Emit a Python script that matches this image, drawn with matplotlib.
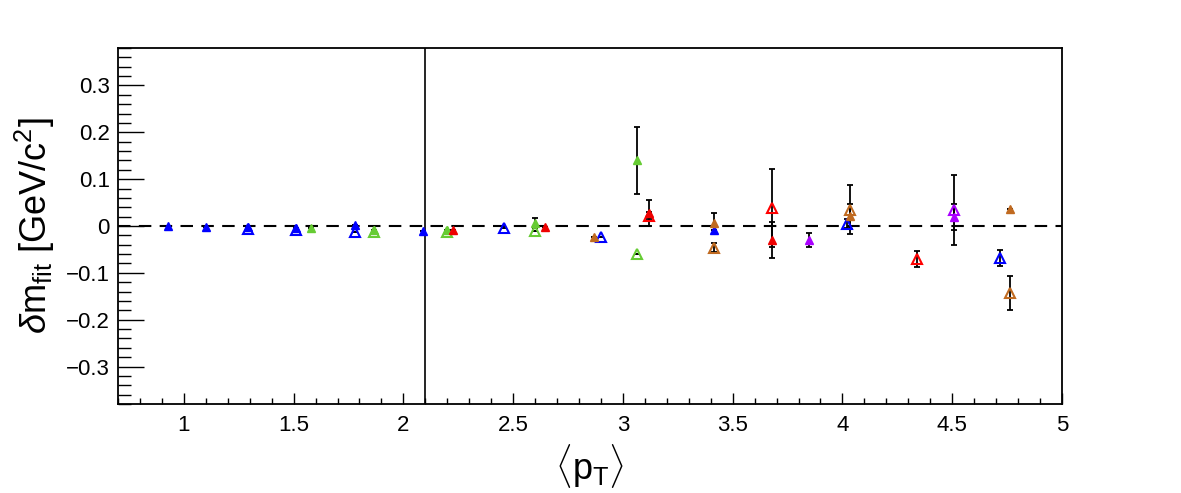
import matplotlib
matplotlib.use("Agg")
import matplotlib.pyplot as plt
from matplotlib.ticker import MultipleLocator, FuncFormatter

plt.rcParams['font.family'] = ['Liberation Sans', 'DejaVu Sans']
plt.rcParams['mathtext.fontset'] = 'custom'
plt.rcParams['mathtext.rm'] = 'Liberation Sans'
plt.rcParams['mathtext.it'] = 'Liberation Sans:italic'
plt.rcParams['mathtext.bf'] = 'Liberation Sans:bold'

# series: (x, y, yerr) per colour, filled / open triangles
blue_f_x = [0.93, 1.10, 1.29, 1.51, 1.78, 2.09, 3.415]
blue_f_y = [-0.001, -0.002, -0.003, -0.004, 0.002, -0.011, -0.008]
blue_f_e = [0, 0, 0, 0, 0, 0, 0]
blue_o_x = [1.29, 1.51, 1.78, 2.46, 2.90, 4.02, 4.72]
blue_o_y = [-0.007, -0.008, -0.012, -0.005, -0.024, 0.005, -0.068]
blue_o_e = [0, 0, 0, 0, 0, 0.010, 0.017]

green_f_x = [1.58, 1.865, 2.20, 2.60, 3.065]
green_f_y = [-0.005, -0.008, -0.008, 0.007, 0.140]
green_f_e = [0, 0, 0, 0.011, 0.071]
green_o_x = [1.865, 2.20, 2.60, 3.065]
green_o_y = [-0.012, -0.012, -0.010, -0.060]
green_o_e = [0, 0, 0, 0]

red_f_x = [2.225, 2.645, 3.12, 3.68]
red_f_y = [-0.009, -0.003, 0.028, -0.030]
red_f_e = [0, 0, 0.027, 0.038]
red_o_x = [3.12, 3.68, 4.34]
red_o_y = [0.022, 0.038, -0.070]
red_o_e = [0.008, 0.083, 0.017]

brown_f_x = [2.87, 3.415, 4.035, 4.765]
brown_f_y = [-0.024, 0.007, 0.021, 0.036]
brown_f_e = [0, 0.021, 0.027, 0]
brown_o_x = [3.415, 4.035, 4.765]
brown_o_y = [-0.046, 0.035, -0.143]
brown_o_e = [0.010, 0.053, 0.036]

purple_f_x = [3.85, 4.51]
purple_f_y = [-0.030, 0.020]
purple_f_e = [0.015, 0.028]
purple_o_x = [4.51]
purple_o_y = [0.034]
purple_o_e = [0.075]

series = [
    (blue_o_x, blue_o_y, blue_o_e, '#0000ff', False),
    (blue_f_x, blue_f_y, blue_f_e, '#0000ff', True),
    (green_o_x, green_o_y, green_o_e, '#66cc33', False),
    (green_f_x, green_f_y, green_f_e, '#66cc33', True),
    (red_o_x, red_o_y, red_o_e, '#ff0000', False),
    (red_f_x, red_f_y, red_f_e, '#ee0000', True),
    (brown_o_x, brown_o_y, brown_o_e, '#c06a20', False),
    (brown_f_x, brown_f_y, brown_f_e, '#c06a20', True),
    (purple_o_x, purple_o_y, purple_o_e, '#aa00ff', False),
    (purple_f_x, purple_f_y, purple_f_e, '#aa00ff', True),
]

fig = plt.figure(figsize=(11.81, 4.93), dpi=100)
ax = fig.add_axes([0.0999, 0.1805, 0.7993, 0.7221])

ax.axhline(0, color='k', ls=(0, (6, 4)), lw=1.5, zorder=1)
ax.axvline(2.1, color='k', lw=1.2, zorder=1)

for x, y, e, c, filled in series:
    ax.errorbar(x, y, yerr=e, fmt='none', ecolor='k', elinewidth=1.3,
                capsize=2, capthick=1.3, zorder=2)
    if filled:
        ax.plot(x, y, ls='none', marker='^', ms=6, color=c, mec=c, zorder=4)
    else:
        ax.plot(x, y, ls='none', marker='^', ms=7.5, mfc='none', mec=c,
                mew=1.5, zorder=3)

ax.set_xlim(0.7, 5.0)
ax.set_ylim(-0.38, 0.38)
ax.xaxis.set_major_locator(MultipleLocator(0.5))
ax.xaxis.set_minor_locator(MultipleLocator(0.1))
ax.yaxis.set_major_locator(MultipleLocator(0.1))
ax.yaxis.set_minor_locator(MultipleLocator(0.02))
fmt = FuncFormatter(lambda v, p: ('%g' % round(v, 3)).replace('-', '\u2212'))
ax.xaxis.set_major_formatter(fmt)
ax.yaxis.set_major_formatter(fmt)

ax.tick_params(axis='both', which='both', direction='in', top=False, right=False,
               labelsize=16, width=1)
ax.tick_params(axis='x', which='major', length=8, pad=8)
ax.tick_params(axis='x', which='minor', length=4)
ax.tick_params(axis='y', which='major', length=19, pad=6)
ax.tick_params(axis='y', which='minor', length=9.5)
for s in ax.spines.values():
    s.set_linewidth(1.3)

ax.set_xlabel(r'$\langle\mathrm{p}_{\mathrm{T}}\rangle$', fontsize=26, labelpad=4)
ax.set_ylabel(r'$\delta\mathrm{m}_{\mathrm{fit}}$ [GeV/c$^{2}$]', fontsize=26, labelpad=6)

fig.savefig('out.png', dpi=100)
